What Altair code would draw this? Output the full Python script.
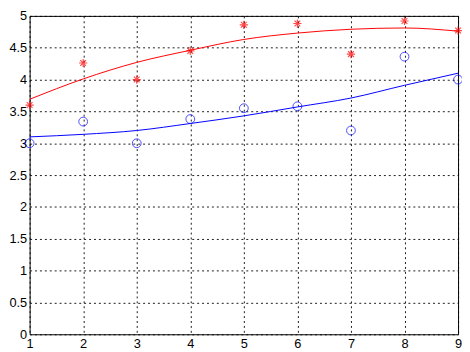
import altair as alt
import pandas as pd

x_vals = [1, 2, 3, 4, 5, 6, 7, 8, 9]
red_points = [3.60, 4.26, 4.00, 4.45, 4.86, 4.88, 4.40, 4.92, 4.77]
blue_points = [3.00, 3.34, 3.00, 3.38, 3.55, 3.58, 3.20, 4.36, 4.00]
red_curve = [3.69, 4.01, 4.27, 4.46, 4.63, 4.73, 4.79, 4.81, 4.76]
blue_curve = [3.10, 3.14, 3.20, 3.31, 3.43, 3.57, 3.71, 3.91, 4.10]
y_ticks = [0, 0.5, 1, 1.5, 2, 2.5, 3, 3.5, 4, 4.5, 5]

pts = pd.DataFrame({"x": x_vals, "red": red_points, "blue": blue_points})
crv = pd.DataFrame({"x": x_vals, "red": red_curve, "blue": blue_curve})

xs = alt.Scale(domain=[1, 9], nice=False, zero=False)
ys = alt.Scale(domain=[0, 5], nice=False, zero=False)

x_axis = alt.Axis(values=x_vals, grid=True, gridColor="black", gridDash=[2, 3], gridOpacity=0.9,
                  gridWidth=1, ticks=False, domain=False, labelPadding=3, title=None,
                  labelOverlap=False, labelFlush=False,
                  labelFont="Liberation Sans", labelFontSize=13, labelColor="black")
y_axis = alt.Axis(values=y_ticks, grid=True, gridColor="black", gridDash=[2, 3], gridOpacity=0.9,
                  gridWidth=1, ticks=False, domain=False, labelPadding=3, title=None, format="~g",
                  labelOverlap=False, labelFlush=False,
                  labelFont="Liberation Sans", labelFontSize=13, labelColor="black")

X = alt.X("x:Q", scale=xs, axis=x_axis)

def Y(f):
    return alt.Y(f + ":Q", scale=ys, axis=y_axis)

red_line = alt.Chart(crv).mark_line(color="#ff0000", strokeWidth=1, interpolate="monotone").encode(
    x=X, y=Y("red"))
blue_line = alt.Chart(crv).mark_line(color="#0000ff", strokeWidth=1, interpolate="monotone").encode(
    x=X, y=Y("blue"))

star = "M-1,0L1,0M0,-1L0,1M-0.7,-0.7L0.7,0.7M-0.7,0.7L0.7,-0.7"
red_pts = alt.Chart(pts).mark_point(shape=star, color="#ff0000", size=70, strokeWidth=1.2, filled=False).encode(
    x=X, y=Y("red"))
blue_pts = alt.Chart(pts).mark_point(shape="circle", color="#0000ff", size=80, strokeWidth=1, filled=False).encode(
    x=X, y=Y("blue"))

chart = alt.layer(red_line, blue_line, red_pts, blue_pts).properties(
    width=436, height=324,
    autosize=alt.AutoSizeParams(type="none"),
    padding={"left": 22, "top": 5, "right": 4, "bottom": 15},
    background="white",
).configure_view(stroke="black", strokeWidth=1)

chart.save("out.html", embed_options={"renderer": "svg", "actions": False})
